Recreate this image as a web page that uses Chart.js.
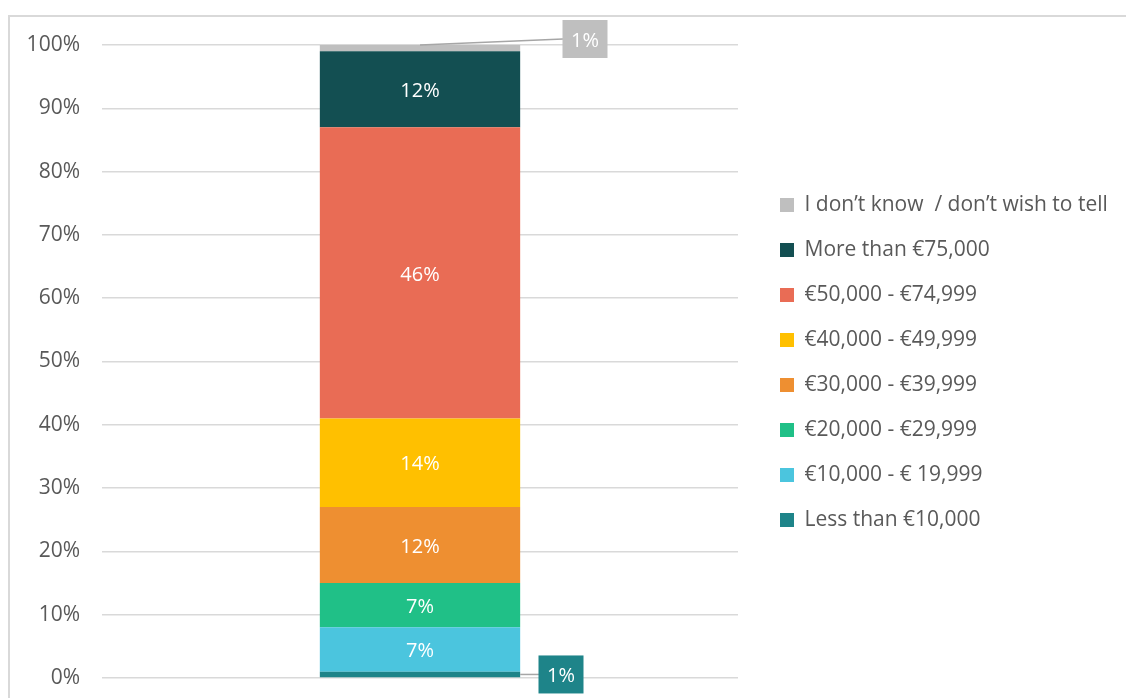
<!DOCTYPE html>
<html>
<head>
<meta charset="utf-8">
<script src="https://cdn.jsdelivr.net/npm/chart.js@4.4.1/dist/chart.umd.min.js"></script>
<style>
  html, body { margin: 0; padding: 0; background: #fff; overflow: hidden; }
  #frame { position: absolute; left: 8px; top: 15px; width: 1300px; height: 900px;
           border-left: 2px solid #d9d9d9; border-top: 2px solid #d9d9d9; }
  #wrap { position: absolute; left: 0; top: 0; width: 1126px; height: 698px; }
</style>
</head>
<body>
<div id="frame"></div>
<div id="wrap"><canvas id="mainChart"></canvas></div>
<script>
const categories = [''];
const bands = ['Less than €10,000', '€10,000 - € 19,999', '€20,000 - €29,999', '€30,000 - €39,999',
               '€40,000 - €49,999', '€50,000 - €74,999', 'More than €75,000', 'I don’t know  / don’t wish to tell'];
const shares = [1, 7, 7, 12, 14, 46, 12, 1];
const colours = ['#1e8489', '#4bc5de', '#20c087', '#ee8f31', '#ffc000', '#e96c55', '#134f52', '#bfbfbf'];
const yTicks = [0, 10, 20, 30, 40, 50, 60, 70, 80, 90, 100];

const FONT = '"Open Sans", "Noto Sans", sans-serif';

// labels on the segments, small ones get a callout box
const segmentLabels = {
    id: 'segmentLabels',
    afterInit(chart) {
        // legend column takes a fixed width so the plot ends where the reference does
        const lg = chart.legend;
        const fit = lg.fit;
        lg.fit = function () { fit.call(this); this.width = 388; };
    },
    afterLayout(chart) {
        const lg = chart.legend;
        lg.left += 18;
        lg.right += 18;
        lg.top += 1;
        lg.bottom += 1;
    },
    afterDatasetsDraw(chart) {
        const ctx = chart.ctx;
        ctx.save();
        ctx.font = '20px ' + FONT;
        ctx.textAlign = 'center';
        ctx.textBaseline = 'middle';
        const last = chart.data.datasets.length - 1;
        chart.data.datasets.forEach((ds, i) => {
            const bar = chart.getDatasetMeta(i).data[0];
            const v = ds.data[0];
            const cy = (bar.y + bar.base) / 2;
            const txt = v + '%';
            if (v >= 5) {
                ctx.fillStyle = '#ffffff';
                ctx.fillText(txt, bar.x, cy + 2);
                return;
            }
            ctx.strokeStyle = '#a6a6a6';
            ctx.lineWidth = 1.5;
            let bx, by;
            if (i === last) {
                bx = bar.x + 165; by = bar.y - 6;
                ctx.beginPath();
                ctx.moveTo(bar.x, bar.y);
                ctx.lineTo(bx - 22, by);
                ctx.stroke();
            } else {
                bx = bar.x + 141; by = cy;
                ctx.beginPath();
                ctx.moveTo(bar.x + bar.width / 2, cy);
                ctx.lineTo(bx - 22, by);
                ctx.stroke();
            }
            ctx.fillStyle = ds.backgroundColor;
            ctx.fillRect(bx - 22.5, by - 19, 45, 38);
            ctx.fillStyle = '#ffffff';
            ctx.fillText(txt, bx, by + 2);
        });
        ctx.restore();
    }
};

new Chart(document.getElementById('mainChart'), {
    type: 'bar',
    data: {
        labels: categories,
        datasets: bands.map((b, i) => ({
            label: b,
            data: [shares[i]],
            backgroundColor: colours[i],
            borderWidth: 0,
            barPercentage: 0.63,
            categoryPercentage: 0.5
        }))
    },
    options: {
        responsive: true,
        maintainAspectRatio: false,
        animation: false,
        layout: { padding: { top: 45, bottom: 20, left: 0, right: 0 } },
        scales: {
            x: { stacked: true, display: false },
            y: {
                stacked: true,
                min: 0,
                max: 100,
                border: { display: false },
                grid: { color: '#d9d9d9', lineWidth: 1.5, drawTicks: false },
                afterBuildTicks: s => { s.ticks = yTicks.map(v => ({ value: v })); },
                afterFit: s => { s.width = 102; s.paddingTop = 0; s.paddingBottom = 0; },
                ticks: {
                    padding: 22,
                    color: '#595959',
                    font: { family: FONT, size: 21 },
                    callback: v => v + '%'
                }
            }
        },
        plugins: {
            legend: {
                position: 'right',
                reverse: true,
                maxWidth: 400,
                labels: {
                    boxWidth: 14,
                    boxHeight: 14,
                    padding: 24,
                    color: '#595959',
                    font: { family: FONT, size: 21 }
                }
            },
            tooltip: { enabled: false }
        }
    },
    plugins: [segmentLabels]
});
</script>
</body>
</html>
